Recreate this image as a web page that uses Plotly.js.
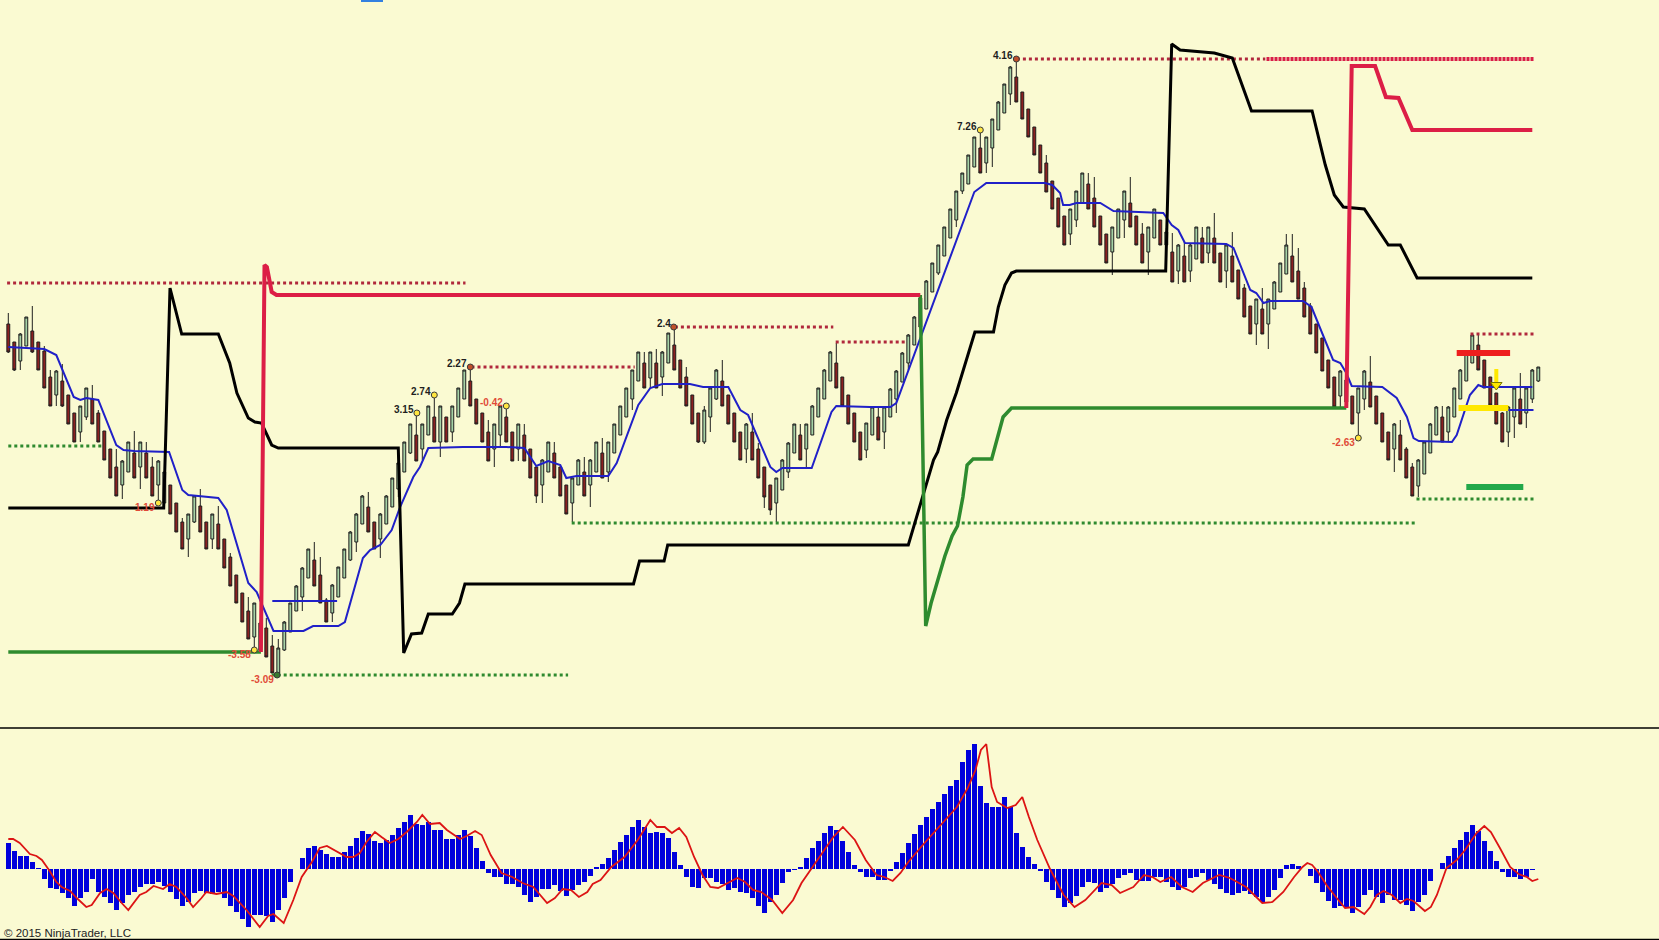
<!DOCTYPE html>
<html><head><meta charset="utf-8">
<script src="https://cdn.plot.ly/plotly-3.0.1.min.js"></script>
<style>html,body{margin:0;padding:0;background:#FAFAD2;overflow:hidden}#chart{width:1659px;height:940px}</style>
</head><body><div id="chart"></div>
<script>
// ---------- price bars (index 0..255) ----------
const openP = [676,658,639,654,669,658,649,623,605,619, 605,587,568,583,601,587,569,551,533,515,
 528,547,533,547,533,515,497,515,497,478, 461,478,494,478,461,476,461,443,425,407,
 389,363,377,372,354,327,350,368,389,403, 422,440,425,400,387,403,422,440,458,476,
 493,478,461,476,493,511,528,547,565,551, 565,583,558,583,568,583,601,619,601,587,
 568,551,565,583,568,551,565,551,533,515, 528,547,533,515,497,515,528,515,528,547,
 528,547,565,583,601,619,637,622,637,623, 637,655,640,623,605,587,558,583,601,619,
 605,587,568,551,568,551,533,515,497,510, 528,547,565,551,565,583,601,619,637,623,
 605,587,568,550,565,583,568,583,601,618, 637,655,673,691,708,727,744,762,780,809,
 816,833,852,837,852,870,887,906,923,908, 891,873,855,837,819,802,784,766,780,797,
 816,802,784,766,748,762,780,797,784,766, 748,762,780,755,748,729,744,729,741,762,
 747,762,747,729,744,730,712,694,676,691, 676,691,708,726,744,729,712,694,676,662,
 640,623,604,620,604,587,601,618,604,587, 568,551,565,551,533,514,526,547,565,583,
 568,583,601,619,637,655,640,623,607,587, 568,583,601,587,601,619];
const highP = [687,658,667,683,694,658,654,630,630,636, 605,587,594,612,615,590,569,551,551,540,
 558,569,558,558,543,540,528,515,497,482, 486,504,511,478,486,494,461,447,425,407,
 403,397,380,382,365,361,379,397,415,433, 451,458,443,402,416,433,451,469,487,505,
 508,478,487,505,522,538,558,576,587,576, 594,605,594,583,594,612,630,633,601,587,
 580,576,594,594,568,576,576,551,533,541, 558,558,533,515,522,541,543,541,558,562,
 558,576,594,612,630,648,648,648,651,649, 667,673,640,633,605,587,594,612,631,640,
 605,587,568,577,587,557,533,515,522,541, 558,576,576,576,595,612,631,649,657,623,
 605,587,568,577,594,593,594,612,630,648, 666,684,702,720,737,755,773,791,809,827,
 845,863,870,863,881,899,916,934,941,908, 891,873,855,845,819,802,784,791,809,827,
 827,823,784,766,773,791,809,823,784,777, 773,791,780,772,767,756,758,756,773,773,
 773,787,747,756,768,730,716,694,701,712, 701,719,737,766,766,752,718,697,676,662,
 640,623,630,622,604,612,630,644,604,587, 568,577,580,553,537,541,558,577,594,594,
 594,612,631,648,667,667,640,623,607,588, 594,612,627,612,631,633];
const lowP = [647,629,630,654,647,630,612,594,594,593, 576,558,558,580,576,558,540,522,504,501,
 528,522,511,522,504,500,493,486,468,451, 443,477,468,451,451,451,432,414,397,378,
 361,351,350,343,327,324,349,368,389,389, 422,414,397,378,378,403,422,439,448,476,
 468,451,442,476,493,503,528,546,539,540, 565,558,543,558,558,583,601,594,576,558,
 539,533,553,558,539,539,539,522,497,497, 528,522,504,486,478,515,504,493,528,522,
 518,547,565,583,590,619,612,612,612,604, 637,630,612,594,576,557,556,568,600,594,
 576,558,540,537,540,522,492,485,478,510, 522,547,540,532,565,583,601,619,612,594,
 576,558,540,542,565,560,551,583,587,618, 630,655,673,691,708,725,744,762,773,806,
 816,833,827,827,833,870,887,895,898,881, 863,845,827,808,791,773,755,755,773,797,
 791,773,755,737,725,762,762,773,755,737, 725,762,755,750,718,716,718,718,741,737,
 737,737,718,712,718,701,683,666,655,666, 651,691,708,726,718,701,683,666,647,629,
 612,593,593,597,576,562,590,593,576,558, 540,528,540,522,504,503,526,547,565,558,
 558,583,601,619,637,630,612,595,576,558, 553,562,576,572,597,618];
const closeP = [648,630,666,683,648,630,612,594,629,594, 576,558,594,612,576,558,540,522,504,539,
 558,522,558,522,504,539,528,486,468,451, 486,504,468,451,486,451,432,414,397,378,
 361,397,350,343,327,352,378,397,414,432, 451,414,397,378,415,433,451,468,486,504,
 468,451,486,504,522,537,558,576,539,576, 594,558,594,558,594,612,630,594,576,558,
 539,576,594,558,539,576,539,522,504,540, 558,522,504,486,522,540,504,540,558,522,
 558,576,594,612,630,648,612,648,612,648, 667,630,612,594,576,558,590,612,630,594,
 576,558,540,576,540,522,503,490,522,540, 557,576,540,576,594,612,630,648,612,594,
 576,558,540,577,593,560,593,611,629,647, 665,683,702,719,737,755,773,791,809,827,
 845,863,827,863,881,898,916,933,898,881, 863,845,827,808,791,773,755,791,809,827,
 791,773,755,737,773,791,809,773,755,737, 773,791,755,768,718,755,718,755,773,737,
 773,737,718,755,718,701,683,666,701,666, 701,718,737,755,718,701,683,666,647,629,
 612,593,629,598,576,612,629,593,576,558, 540,576,540,522,504,540,558,576,593,558,
 593,612,630,647,665,630,612,595,576,558, 593,612,576,612,630,633];

// ---------- oscillator histogram (one value per bar) ----------
const histVal = [26,18,13,13,7,1,-10,-19,-20,-24, -29,-37,-29,-23,-10,-23,-28,-34,-41,-34,
 -26,-23,-18,-15,-15,-13,-17,-23,-30,-37, -33,-24,-22,-24,-25,-23,-29,-37,-43,-50,
 -58,-46,-46,-47,-53,-41,-29,-13,0,11, 21,23,19,15,12,12,17,23,31,38,
 35,28,26,29,34,41,47,54,45,44, 47,39,39,30,30,34,39,33,21,8,
 -4,-8,-8,-15,-15,-18,-26,-33,-28,-20, -20,-16,-22,-27,-21,-16,-13,-7,2,5,
 11,19,27,34,42,49,42,36,37,36, 31,17,4,-8,-18,-19,-9,-9,-13,-15,
 -21,-19,-23,-24,-29,-37,-44,-33,-26,-14, -3,-1,2,11,21,28,36,43,39,28,
 17,4,-3,-8,-8,-11,-11,-2,7,16, 26,35,44,52,60,67,75,83,89,107,
 119,125,83,66,62,62,72,62,36,22, 12,5,-2,-13,-21,-29,-38,-34,-27,-18,
 -13,-14,-23,-19,-15,-9,-6,-4,-11,-12, -12,-8,-8,-13,-18,-21,-18,-9,-8,-4,
 -11,-15,-20,-24,-26,-24,-22,-25,-28,-33, -28,-21,-9,4,5,3,0.5,-7,-14,-23,
 -32,-39,-37,-38,-44,-38,-26,-21,-28,-34, -26,-31,-31,-36,-42,-33,-26,-12,0.5,6,
 13,21,29,37,44,38,28,18,8,-3, -8,-8,-10,-8,-1,0];
// signal line (bar position, value)
const sigX = [0,0.8,1.9,3.6,4.7,5.6,6.9,8,8.9,10.3,11.4,13,13.9,15.3,16.4,17.5,18.9,20,21.9,23,24.2,25.8,26.9,28,29.7,30.8,32.2,33,34.7,36.4,37.5,39.7,41.9,43.3,44.2,45.9,47.5,48.9,50.6,51.9,53.1,54.7,56.4,57.5,58.6,59.7,61.1,62.2,63.6,65,66.4,68.1,69,70.3,71.9,73.1,75.3,76.4,77.8,78.9,80.4,82.2,84,85.7,87.5,89.8,91.1,92.4,93.8,95.1,96.5,97.4,98.7,100.5,102.7,104.9,107,108.1,109.4,110.6,111.8,113,114.3,115.7,117,118.3,120.1,121.5,122.8,124.1,125.5,127.3,129,130.8,132.2,134,135.7,137.5,139.1,141.1,142.9,144.7,146,147.4,148.7,150,152.7,155.4,158.1,159.9,161.2,162.1,163,163.9,164.8,166.5,167.9,169,170.1,171.5,173.7,175.9,177.7,179.5,182.2,183.9,185.3,187.5,189.3,190.7,192,193.8,195.6,197.4,199.1,201.8,203.6,206.3,209,210.7,212.5,214.3,215.7,216.5,217.3,218.3,219.7,221.4,222.8,224.2,226,227,228.1,229.2,230.6,232,233.1,234.2,236.1,237.1,238.1,239.7,241.4,242.8,244.7,246,247.1,248.6,250.3,251.7,253.1,254,255];
const sigY = [30,30,26,15,13,9,-2,-13,-18,-22,-29,-38,-36,-24,-20,-24,-34,-41,-26,-23,-17,-20,-15,-18,-29,-38,-29,-23,-25,-23,-27,-41,-58,-47,-45,-54,-31,-8,7,21,23,18,12,12,16,27,37,32,26,30,37,47,54,45,46,39,30,33,38,34,14,-4,-8,-14,-18,-34,-29,-20,-21,-28,-23,-15,-11,2,12,29,49,42,42,36,41,32,12,-6,-18,-19,-13,-9,-13,-21,-23,-31,-44,-31,-14,2,17,32,42,29,9,-6,-8,-12,-4,7,26,44,62,81,99,119,125,82,67,61,64,72,52,29,-1,-26,-38,-31,-14,-16,-24,-18,-6,-8,-13,-8,-18,-23,-14,-6,-9,-18,-34,-33,-23,-8,2,6,4,-3,-16,-29,-39,-38,-45,-38,-26,-22,-26,-34,-30,-32,-42,-38,-26,1,9,19,36,43,37,21,2,-5,-8,-12,-10];

// ---------- overlays on price panel (bar position, price) ----------
const maX = [0,6,8,10.9,12,13,15,18,19.2,21,26.8,29,30,35,36.4,40,41.4,44.2,49.2,50.8,55,56.1,59.1,60.3,62,63.9,65.3,67.5,68.6,70,75.8,83,86,88,90,92,93,94.7,100,101.4,105,107,109,113.6,115.8,120,122,123.3,127,128,129,133.9,137.2,138,143.6,147,148,161,163,172.8,174,175.3,175.8,176.9,178,182,184.2,188.6,192.5,193.9,195,196.1,203,204.2,207,208,209.2,210.3,215.8,217.2,220.8,222,223,223.9,229,231.4,233.1,234.2,235.1,240.6,241.4,243.6,245,245.8,254];
const maY = [653,651,645,603,600,602,600,555,550,549,548,510,505,502,490,417,408,369,369,374,374,378,442,450,455,470,493,523,533,552,553,553,552,534,539,535,522,524,524,537,595,612,616,616,613,613,590,585,533,528,532,532,588,594,593,593,597,808,817,817,815,807,795,795,797,797,789,788,787,775,770,757,756,752,710,707,697,699,699,693,640,637,627,614,613,602,583,562,559,558,565,605,615,613,613];
const trailX = [0,25.9,26.95,28.9,35,36.9,38.1,40,41.1,42.2,43.9,45,65,65.9,67.2,68.9,70,74,75.2,76.1,104.2,105.2,109.3,109.9,150,152,154.2,154.9,156.4,158,161.1,164.2,165,166.1,167.2,168,192.9,193.9,195.3,201,204,207.2,217.3,219.5,221,222.5,226,230,232,234.8,254];
const trailY = [492,492,712,666,666,637,607,582,578,577,555,552,552,347,366,367,386,386,397,416,416,439,439,455,455,495,540,548,580,607,668,668,693,715,727,729,729,956,950,947,942,889,889,835,805,793,791,755,755,722,722];
const shortStop1X = [42.1,42.7,43.1,43.9,44.7,152];
const shortStop1Y = [348,735,733,708,705,705];
const shortStop2X = [223,223.9,227.8,229.6,231.7,234,254];
const shortStop2Y = [592,934,934,903,902,870,870];
const longStop1X = [0,42.1];
const longStop1Y = [348,348];
const longStop2X = [152,152.9,153.8,154.8,156.1,157.3,158.2,159.1,159.8,160.8,163.9,165.8,167.2,223];
const longStop2Y = [705,374,397,418,444,464,474,503,535,541,541,583,592,592];

// dotted swing levels
const resStart = [-0.2,77.2,111.1,137.9,168.1,243.7];
const resEnd   = [76.2,104.4,137.5,149.4,209.5,254.5];
const resLevel = [717,633,673,658,941,666];
const resBoldStart = [209.7], resBoldEnd = [254.3], resBoldLevel = [941];
const supStart = [0,43.9,93.9,234.7];
const supEnd   = [15.6,93.3,234.5,254.5];
const supLevel = [554,325,477,501];
// short blue mid levels
const midStart = [44,249.7], midEnd = [54.8,254.2], midLevel = [399,590];
// right-side target zones: red, yellow, green
const zoneStart = [241.4,241.7,243], zoneEnd = [250.3,250,252.5], zoneLevel = [647,592,513];
const arrowX = 248, arrowTop = 631, arrowTip = 613;

// swing point labels
const swingX    = [25,41,44.8,68.1,71,77,83,110.9,162,168,225];
const swingY    = [497,350,325,587,605,633,594,673,870,941,562];
const swingText = ['1.19','-3.58','-3.09','3.15','2.74','2.27','-0.42','2.4','7.26','4.16','-2.63'];
const swingSide = ['low','low','low','high','high','high','high','high','high','high','low'];
const swingTone = ['neg','neg','neg','pos','pos','pos','neg','pos','pos','pos','neg'];
const swingDot  = ['y','y','g','y','y','b','y','b','y','b','y'];

// ---------- build ----------
const barIdx = openP.map((_, i) => i);
function segs(s, e, l) {
  const x = [], y = [];
  for (let i = 0; i < s.length; i++) { x.push(s[i], e[i], null); y.push(l[i], l[i], null); }
  return {x, y};
}
const res = segs(resStart, resEnd, resLevel);
const resB = segs(resBoldStart, resBoldEnd, resBoldLevel);
const sup = segs(supStart, supEnd, supLevel);
const mid = segs(midStart, midEnd, midLevel);
const zoneColors = ['#EE1E1E', '#FFE800', '#22A84A'];

const traces = [];
traces.push({type:'scatter', mode:'lines', x:res.x, y:res.y, line:{color:'#B0283C', width:3, dash:'3px,3px'}, hoverinfo:'skip'});
traces.push({type:'scatter', mode:'lines', x:resB.x, y:resB.y, line:{color:'#D81E48', width:4, dash:'3px,1px'}, hoverinfo:'skip'});
traces.push({type:'scatter', mode:'lines', x:sup.x, y:sup.y, line:{color:'#2F8A2F', width:3, dash:'3px,3px'}, hoverinfo:'skip'});
traces.push({type:'candlestick', x:barIdx, open:openP, high:highP, low:lowP, close:closeP,
  increasing:{line:{color:'#1e1e1e', width:1}, fillcolor:'#A6D2A6'},
  decreasing:{line:{color:'#1e1e1e', width:1}, fillcolor:'#8B2020'},
  whiskerwidth:0, hoverinfo:'skip', xaxis:'x', yaxis:'y'});
traces.push({type:'scatter', mode:'lines', x:maX, y:maY, line:{color:'#2020C8', width:2}, hoverinfo:'skip'});
traces.push({type:'scatter', mode:'lines', x:mid.x, y:mid.y, line:{color:'#2020C8', width:2}, hoverinfo:'skip'});
traces.push({type:'scatter', mode:'lines', x:trailX, y:trailY, line:{color:'#000000', width:3}, hoverinfo:'skip'});
traces.push({type:'scatter', mode:'lines', x:longStop1X, y:longStop1Y, line:{color:'#2E8B2E', width:3.5}, hoverinfo:'skip'});
traces.push({type:'scatter', mode:'lines', x:longStop2X, y:longStop2Y, line:{color:'#2E8B2E', width:3.5}, hoverinfo:'skip'});
traces.push({type:'scatter', mode:'lines', x:shortStop1X, y:shortStop1Y, line:{color:'#DC1E46', width:4}, hoverinfo:'skip'});
traces.push({type:'scatter', mode:'lines', x:shortStop2X, y:shortStop2Y, line:{color:'#DC1E46', width:4}, hoverinfo:'skip'});
for (let k = 0; k < zoneStart.length; k++) {
  traces.push({type:'scatter', mode:'lines', x:[zoneStart[k], zoneEnd[k]], y:[zoneLevel[k], zoneLevel[k]],
    line:{color:zoneColors[k], width:6}, hoverinfo:'skip'});
}
traces.push({type:'scatter', mode:'lines', x:[arrowX, arrowX], y:[arrowTop, arrowTip + 5], line:{color:'#FFE800', width:4}, hoverinfo:'skip'});
traces.push({type:'scatter', mode:'markers', x:[arrowX], y:[arrowTip + 2], marker:{symbol:'triangle-down', size:10, color:'#FFE800', line:{color:'#777700', width:1}}, hoverinfo:'skip'});
const dotFill = {y:'#FFE640', b:'#C0502A', g:'#3A7A30'};
['y','b','g'].forEach(k => {
  const xs = [], ys = [];
  swingX.forEach((v, i) => { if (swingDot[i] === k) { xs.push(v); ys.push(swingY[i]); } });
  traces.push({type:'scatter', mode:'markers', x:xs, y:ys, marker:{size:6, color:dotFill[k], line:{color:'#3a3a3a', width:1}}, hoverinfo:'skip'});
});
// oscillator panel
traces.push({type:'bar', x:barIdx, y:histVal, xaxis:'x', yaxis:'y2', width:0.78, marker:{color:'#0000DC', line:{width:0}}, hoverinfo:'skip'});
traces.push({type:'scatter', mode:'lines', x:sigX, y:sigY, xaxis:'x', yaxis:'y2', line:{color:'#DC1414', width:1.8}, hoverinfo:'skip'});

const annotations = swingX.map((v, i) => ({
  x: v, y: swingY[i], xref:'x', yref:'y', text: '<b>' + swingText[i] + '</b>', showarrow:false,
  xanchor:'right', yanchor:'middle', xshift:-1, yshift: swingSide[i] === 'high' ? 4 : -4,
  font:{family:'Liberation Sans, Arial, sans-serif', size:10, color: swingTone[i] === 'pos' ? '#1e1e1e' : '#E04A38'}
}));
annotations.push({x:0.001, y:7/940, xref:'paper', yref:'paper', text:'© 2015 NinjaTrader, LLC', showarrow:false,
  xanchor:'left', yanchor:'middle', font:{family:'Liberation Sans, Arial, sans-serif', size:11.5, color:'#222'}});

const sep = 1 - 728/940;
const layout = {
  width:1659, height:940, margin:{l:0, r:0, t:0, b:0}, autosize:false,
  paper_bgcolor:'#FAFAD2', plot_bgcolor:'#FAFAD2', showlegend:false, hovermode:false,
  boxgap:0.4, boxgroupgap:0.2, bargap:0,
  xaxis:{range:[-8.3/6, (1659 - 8.3)/6], visible:false, showgrid:false, zeroline:false, rangeslider:{visible:false}, fixedrange:true},
  yaxis:{domain:[sep, 1], range:[272, 1000], visible:false, showgrid:false, zeroline:false, fixedrange:true},
  yaxis2:{domain:[0, 211/940], range:[-71, 140], visible:false, showgrid:false, zeroline:false, fixedrange:true, anchor:'x'},
  shapes:[
    {type:'line', xref:'paper', yref:'paper', x0:0, x1:1, y0:sep, y1:sep, line:{color:'#000', width:1.5}},
    {type:'line', xref:'paper', yref:'paper', x0:0, x1:1, y0:0.6/940, y1:0.6/940, line:{color:'#000', width:1.5}},
    {type:'rect', xref:'paper', yref:'paper', x0:361/1659, x1:383/1659, y0:1 - 2/940, y1:1, line:{width:0}, fillcolor:'#3380E0'}
  ],
  annotations: annotations
};
Plotly.newPlot('chart', traces, layout, {staticPlot:true, displayModeBar:false});
</script>
</body></html>
